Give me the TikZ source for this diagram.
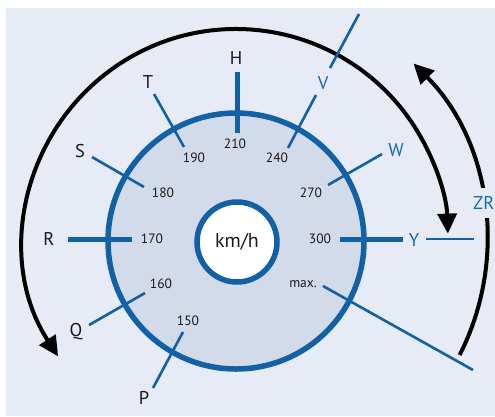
\documentclass[tikz,border=0pt]{standalone}
\usepackage{fontspec}
\setmainfont{PT Sans}
\usetikzlibrary{arrows.meta,calc}
\definecolor{bgblue}{RGB}{230,235,246}
\definecolor{fillblue}{RGB}{211,219,235}
\definecolor{dblue}{RGB}{18,96,166}
\definecolor{tblue}{RGB}{24,104,176}
\definecolor{txt}{RGB}{25,25,25}
\tikzset{
  thinspoke/.style={draw=dblue, line width=2.6pt},
  thickspoke/.style={draw=dblue, line width=5pt},
  letter/.style={text=txt, font=\fontsize{18.5}{20}\selectfont, inner sep=0pt},
  bletter/.style={text=tblue, font=\fontsize{18.5}{20}\selectfont, inner sep=0pt},
  num/.style={text=txt, font=\fontsize{13.5}{15}\selectfont, inner sep=0pt},
  blackarc/.style={draw=black, line width=4pt},
}
\begin{document}
\begin{tikzpicture}[x=1pt,y=-1pt]
\useasboundingbox (0,0) rectangle (495,416);
\fill[bgblue] (6,8) rectangle (495,416);
\coordinate (c) at (236,241);
% main disc
\node[circle, draw=dblue, fill=fillblue, line width=5.5pt, minimum size=256pt, inner sep=0pt] (disc) at (c) {};
\node[circle, draw=dblue, fill=white, line width=5.5pt, minimum size=80pt, inner sep=0pt, text=txt, font=\fontsize{20}{22}\selectfont] (kmh) at (237,242) {km/h};
% arcs
\draw[blackarc, {Triangle[length=20pt,width=19pt]}-{Triangle[length=20pt,width=19pt]}]
  ($(c)+(213:212pt)$) coordinate (la) arc[start angle=213, end angle=2, radius=212pt] coordinate (ra);
\draw[blackarc, -{Triangle[length=20pt,width=19pt]}]
  ($(c)+(-27:251pt)$) coordinate (zb) arc[start angle=-27, end angle=45, radius=251pt] coordinate (zt);
\node[bletter, fill=bgblue, inner xsep=1pt, inner ysep=8pt, anchor=west] (ZR) at (472,203) {ZR};
% labels
\node[letter] (H) at (236,58) {H};
\node[letter] (T) at (148,82) {T};
\node[bletter] (V) at (323,83) {V};
\node[letter] (S) at (80,151) {S};
\node[bletter] (W) at (396,150) {W};
\node[letter] (R) at (49,239) {R};
\node[bletter] (Y) at (414,240) {Y};
\node[letter] (Q) at (76,332) {Q};
\node[letter] (P) at (144,398) {P};
% numbers
\node[num] (n210) at (235,144) {210};
\node[num] (n190) at (194,158) {190};
\node[num] (n240) at (277,158) {240};
\node[num] (n180) at (163,193) {180};
\node[num] (n270) at (311,193) {270};
\node[num] (n170) at (152,239) {170};
\node[num] (n300) at (320,239) {300};
\node[num] (n160) at (161,284) {160};
\node[num] (n150) at (188,321) {150};
\node[num] (nmax) at (303,284) {max.};
% spoke end points
\coordinate (h1) at (237,72);  \coordinate (h2) at (237,133);
\coordinate (t1) at (154,94);  \coordinate (t2) at (184,147);
\coordinate (v1) at (316,95);  \coordinate (v2) at (288,148);
\coordinate (v3) at (359,14);  \coordinate (v4) at (330,68);
\coordinate (s1) at (92,157);  \coordinate (s2) at (144,187);
\coordinate (w1) at (382,154); \coordinate (w2) at (328,185);
\coordinate (r1) at (68,239);  \coordinate (r2) at (132,239);
\coordinate (y1) at (340,239); \coordinate (y2) at (403,239);
\coordinate (y3) at (426,239); \coordinate (y4) at (474,239);
\coordinate (q1) at (89,325);  \coordinate (q2) at (145,293);
\coordinate (p1) at (153,388); \coordinate (p2) at (183,332);
\coordinate (m1) at (323,286); \coordinate (m2) at (473,370);
% spokes
\draw[thickspoke] (h1) -- (h2);
\draw[thickspoke] (r1) -- (r2);
\draw[thickspoke] (y1) -- (y2);
\draw[thinspoke] (y3) -- (y4);
\draw[thinspoke] (t1) -- (t2);
\draw[thinspoke] (v1) -- (v2);
\draw[thinspoke] (v3) -- (v4);
\draw[thinspoke] (s1) -- (s2);
\draw[thinspoke] (w1) -- (w2);
\draw[thinspoke] (q1) -- (q2);
\draw[thinspoke] (p1) -- (p2);
\draw[thinspoke] (m1) -- (m2);
\end{tikzpicture}
\end{document}
